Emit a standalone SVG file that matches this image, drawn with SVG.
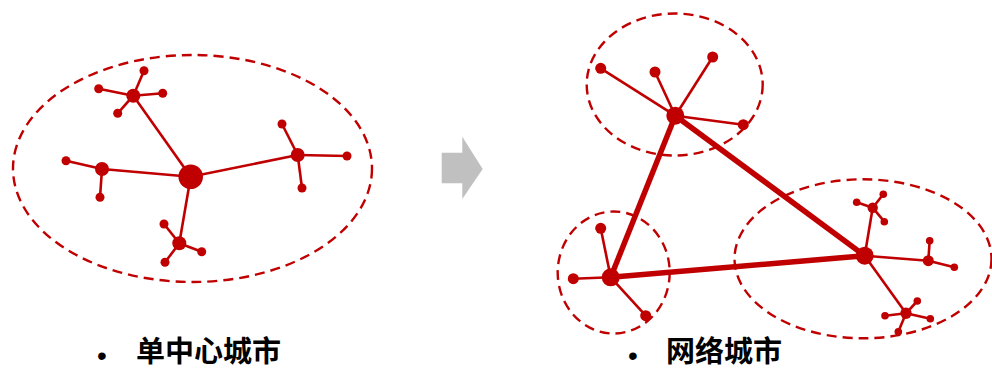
<svg xmlns="http://www.w3.org/2000/svg" width="992" height="371" viewBox="0 0 992 371">
<style>
.bound{fill:none;stroke:#c00000;stroke-width:2.4;stroke-dasharray:10 6}
.ln{stroke:#c00000;stroke-width:2.6;fill:none}
.thick{stroke:#c00000;stroke-width:5.5;fill:none}
.n{fill:#c00000}
.lbl{font-family:"Noto Sans CJK SC","Liberation Sans",sans-serif;font-weight:bold;font-size:29px;fill:#000}
.bul{font-family:"Liberation Sans",sans-serif;font-size:28px;fill:#000}
</style>
<rect width="992" height="371" fill="#fff"/>
<g id="boundaries">
<ellipse class="bound" cx="192.5" cy="168.5" rx="179.5" ry="113.5"/>
<ellipse class="bound" cx="674.7" cy="84.5" rx="88" ry="71"/>
<ellipse class="bound" cx="613.7" cy="272.5" rx="56" ry="61"/>
<ellipse class="bound" cx="863" cy="258.8" rx="128.5" ry="79.5"/>
</g>
<g id="connectors">
<line class="ln" x1="190.7" y1="176.7" x2="133.3" y2="95.7"/>
<line class="ln" x1="190.7" y1="176.7" x2="102" y2="169"/>
<line class="ln" x1="190.7" y1="176.7" x2="297.7" y2="155"/>
<line class="ln" x1="190.7" y1="176.7" x2="179.3" y2="243.3"/>
<line class="ln" x1="133.3" y1="95.7" x2="144" y2="70.7"/>
<line class="ln" x1="133.3" y1="95.7" x2="98.7" y2="88.7"/>
<line class="ln" x1="133.3" y1="95.7" x2="162.7" y2="93.3"/>
<line class="ln" x1="133.3" y1="95.7" x2="117.7" y2="113.3"/>
<line class="ln" x1="102" y1="169" x2="66" y2="160.7"/>
<line class="ln" x1="102" y1="169" x2="100" y2="197.3"/>
<line class="ln" x1="297.7" y1="155" x2="282" y2="124"/>
<line class="ln" x1="297.7" y1="155" x2="347" y2="156"/>
<line class="ln" x1="297.7" y1="155" x2="302" y2="188"/>
<line class="ln" x1="179.3" y1="243.3" x2="164" y2="224"/>
<line class="ln" x1="179.3" y1="243.3" x2="201.7" y2="251.7"/>
<line class="ln" x1="179.3" y1="243.3" x2="165" y2="262.3"/>
<line class="thick" x1="675.3" y1="115.7" x2="610.7" y2="277.3"/>
<line class="thick" x1="675.3" y1="115.7" x2="864.7" y2="255.7"/>
<line class="thick" x1="610.7" y1="277.3" x2="864.7" y2="255.7"/>
<line class="ln" x1="675.3" y1="115.7" x2="600.7" y2="68.3"/>
<line class="ln" x1="675.3" y1="115.7" x2="655" y2="72"/>
<line class="ln" x1="675.3" y1="115.7" x2="712.7" y2="57"/>
<line class="ln" x1="675.3" y1="115.7" x2="743.3" y2="124.7"/>
<line class="ln" x1="610.7" y1="277.3" x2="600.7" y2="228.3"/>
<line class="ln" x1="610.7" y1="277.3" x2="573.3" y2="278.7"/>
<line class="ln" x1="610.7" y1="277.3" x2="645.7" y2="315.7"/>
<line class="ln" x1="864.7" y1="255.7" x2="872.7" y2="207.7"/>
<line class="ln" x1="864.7" y1="255.7" x2="928.3" y2="260.7"/>
<line class="ln" x1="864.7" y1="255.7" x2="906" y2="313.3"/>
<line class="ln" x1="872.7" y1="207.7" x2="856.7" y2="202.3"/>
<line class="ln" x1="872.7" y1="207.7" x2="883.3" y2="194.3"/>
<line class="ln" x1="872.7" y1="207.7" x2="884.3" y2="221.7"/>
<line class="ln" x1="928.3" y1="260.7" x2="929.7" y2="240.7"/>
<line class="ln" x1="928.3" y1="260.7" x2="954.3" y2="267.3"/>
<line class="ln" x1="906" y1="313.3" x2="917.3" y2="301"/>
<line class="ln" x1="906" y1="313.3" x2="885" y2="315.7"/>
<line class="ln" x1="906" y1="313.3" x2="930.3" y2="318.7"/>
<line class="ln" x1="906" y1="313.3" x2="898.3" y2="331.7"/>
</g>
<g id="center-left"><circle class="n" cx="190.7" cy="176.7" r="12.3"/></g>
<g id="hub-top-left"><circle class="n" cx="133.3" cy="95.7" r="7"/>
<circle class="n" cx="144" cy="70.7" r="4.5"/><circle class="n" cx="98.7" cy="88.7" r="4.5"/><circle class="n" cx="162.7" cy="93.3" r="4.5"/><circle class="n" cx="117.7" cy="113.3" r="4.5"/></g>
<g id="hub-left"><circle class="n" cx="102" cy="169" r="7"/>
<circle class="n" cx="66" cy="160.7" r="4.5"/><circle class="n" cx="100" cy="197.3" r="4.5"/></g>
<g id="hub-right"><circle class="n" cx="297.7" cy="155" r="7"/>
<circle class="n" cx="282" cy="124" r="4.5"/><circle class="n" cx="347" cy="156" r="4.5"/><circle class="n" cx="302" cy="188" r="4.5"/></g>
<g id="hub-bottom"><circle class="n" cx="179.3" cy="243.3" r="7"/>
<circle class="n" cx="164" cy="224" r="4.5"/><circle class="n" cx="201.7" cy="251.7" r="4.5"/><circle class="n" cx="165" cy="262.3" r="4.5"/></g>
<g id="arrow"><polygon points="441.7,152.7 462.3,152.7 462.3,136.7 482.7,169 462.3,199 462.3,183.3 441.7,183.3" fill="#c0c0c0"/></g>
<g id="net-top"><circle class="n" cx="675.3" cy="115.7" r="9"/>
<circle class="n" cx="600.7" cy="68.3" r="5.5"/><circle class="n" cx="655" cy="72" r="5.5"/><circle class="n" cx="712.7" cy="57" r="5.5"/><circle class="n" cx="743.3" cy="124.7" r="5.5"/></g>
<g id="net-left"><circle class="n" cx="610.7" cy="277.3" r="9"/>
<circle class="n" cx="600.7" cy="228.3" r="5.5"/><circle class="n" cx="573.3" cy="278.7" r="5.5"/><circle class="n" cx="645.7" cy="315.7" r="5.5"/></g>
<g id="net-right"><circle class="n" cx="864.7" cy="255.7" r="9"/>
<circle class="n" cx="872.7" cy="207.7" r="5.2"/><circle class="n" cx="856.7" cy="202.3" r="3.8"/><circle class="n" cx="883.3" cy="194.3" r="3.8"/><circle class="n" cx="884.3" cy="221.7" r="3.8"/>
<circle class="n" cx="928.3" cy="260.7" r="5.5"/><circle class="n" cx="929.7" cy="240.7" r="3.8"/><circle class="n" cx="954.3" cy="267.3" r="3.8"/>
<circle class="n" cx="906" cy="313.3" r="5.7"/><circle class="n" cx="917.3" cy="301" r="3.8"/><circle class="n" cx="885" cy="315.7" r="3.8"/><circle class="n" cx="930.3" cy="318.7" r="3.8"/><circle class="n" cx="898.3" cy="331.7" r="3.8"/></g>
<g id="label-left"><text class="bul" x="97" y="365">•</text><text class="lbl" x="136" y="362">单中心城市</text></g>
<g id="label-right"><text class="bul" x="628" y="365">•</text><text class="lbl" x="666" y="362">网络城市</text></g>
</svg>
